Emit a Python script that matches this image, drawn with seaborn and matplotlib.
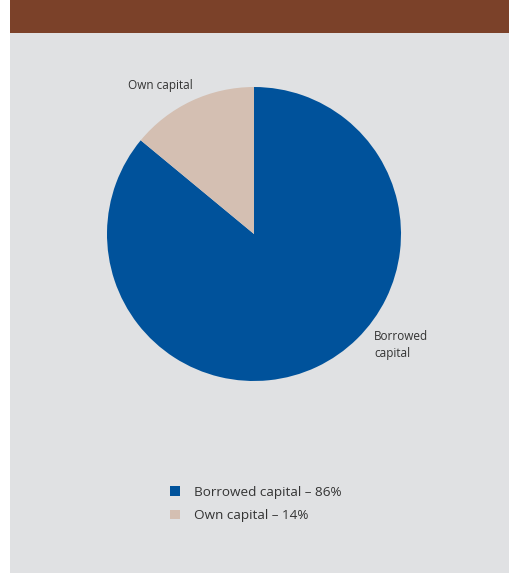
import matplotlib
matplotlib.use("Agg")
import matplotlib.pyplot as plt
import seaborn as sns
from matplotlib.patches import Rectangle

# ---------- DATA ----------

categories = ["Borrowed capital", "Own capital"]
shares = [86, 14]
legend_labels = ["Borrowed capital \u2013 86%", "Own capital \u2013 14%"]

colors = ["#00529b", "#d4bfb2"]

# ---------- STYLE ----------

sns.set_theme(style="white")
plt.rcParams["font.family"] = ["Open Sans", "DejaVu Sans"]

W, H = 510, 573
fig = plt.figure(figsize=(W / 100, H / 100), dpi=100)
fig.patch.set_facecolor("white")

# background panels
fig.patches.append(Rectangle((10 / W, 0), 1 - 10 / W, 1, transform=fig.transFigure,
                             facecolor="#e0e1e3", edgecolor="none", zorder=-2))
fig.patches.append(Rectangle((10 / W, 1 - 33 / H), 1 - 10 / W, 33 / H, transform=fig.transFigure,
                             facecolor="#7b4129", edgecolor="none", zorder=-1))

# ---------- PIE ----------

cx, cy, r = 254, 234, 147
ax = fig.add_axes([(cx - r) / W, 1 - (cy + r) / H, 2 * r / W, 2 * r / H])
ax.set_facecolor("none")
ax.set_zorder(1)

wedges, _ = ax.pie(
    shares,
    colors=colors,
    startangle=90,
    counterclock=False,
    radius=1,
    wedgeprops={"linewidth": 0}
)
ax.set_xlim(-1, 1)
ax.set_ylim(-1, 1)
ax.set_aspect("equal")
ax.axis("off")

# slice labels
fig.text(128 / W, 1 - 86 / H, "Own capital", fontsize=8.5, color="#333333",
         ha="left", va="center")
fig.text(374 / W, 1 - 345 / H, "Borrowed\ncapital", fontsize=8.5, color="#333333",
         ha="left", va="center", linespacing=1.45)

# ---------- LEGEND ----------

fig.legend(
    wedges,
    legend_labels,
    loc="upper left",
    bbox_to_anchor=(158 / W, 1 - 474 / H),
    frameon=False,
    fontsize=9.7,
    handlelength=0.75,
    handleheight=0.75,
    handletextpad=1.0,
    labelspacing=0.75,
    labelcolor="#333333"
)

fig.savefig("out.png", dpi=100)
